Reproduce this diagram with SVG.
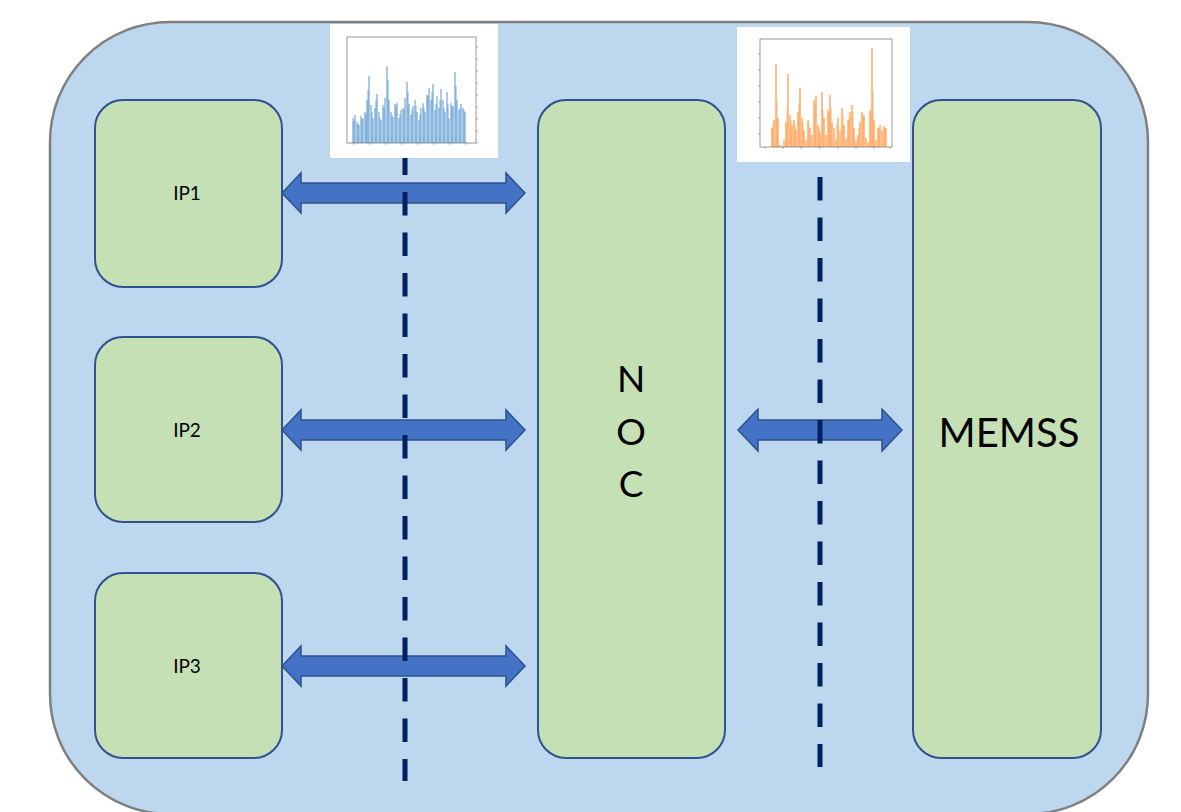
<svg xmlns="http://www.w3.org/2000/svg" width="1181" height="812" viewBox="0 0 1181 812">
  <defs>
    <style>
      .block { fill: #C5E0B4; stroke: #2F528F; stroke-width: 2; }
      .link { fill: #4472C4; stroke: #2F528F; stroke-width: 1.5; stroke-linejoin: miter; }
      .cut { stroke: #002060; stroke-width: 5; stroke-dasharray: 23.5 17; fill: none; }
      .label { font-family: Lato, "Open Sans", "Liberation Sans", sans-serif; fill: #000; text-anchor: middle; }
      .frame { fill: none; stroke: #555; stroke-width: 0.6; }
      .tick { stroke: #777; stroke-width: 0.6; }
    </style>
  </defs>

  <!-- SoC boundary -->
  <rect id="soc" x="50" y="22" width="1098" height="792" rx="120" ry="120" fill="#BDD7EE" stroke="#808080" stroke-width="2.5"/>

  <!-- IP blocks -->
  <g id="ip1">
    <rect class="block" x="95" y="100" width="187" height="187" rx="28"/>
    <text class="label" x="187" y="200" font-size="19">IP1</text>
  </g>
  <g id="ip2">
    <rect class="block" x="95" y="337" width="187" height="185" rx="28"/>
    <text class="label" x="187" y="437" font-size="19">IP2</text>
  </g>
  <g id="ip3">
    <rect class="block" x="95" y="573" width="187" height="185" rx="28"/>
    <text class="label" x="187" y="673" font-size="19">IP3</text>
  </g>

  <!-- Network on chip -->
  <g id="noc">
    <rect class="block" x="538" y="100" width="187" height="658" rx="28"/>
    <text class="label" x="631" y="392" font-size="37">N</text>
    <text class="label" x="631" y="445" font-size="37">O</text>
    <text class="label" x="631" y="497" font-size="37">C</text>
  </g>

  <!-- Memory subsystem -->
  <g id="memss">
    <rect class="block" x="913" y="100" width="188" height="658" rx="28"/>
    <text class="label" x="1009" y="447" font-size="40">MEMSS</text>
  </g>

  <!-- Bidirectional links and probe cut lines -->
  <g id="connectors">
    <polygon class="link" points="282,193 301,173 301,183 506,183 506,173 525,193 506,213 506,203 301,203 301,213"/>
    <polygon class="link" points="282,430 301,410 301,420 506,420 506,410 525,430 506,450 506,440 301,440 301,450"/>
    <polygon class="link" points="282,666 301,646 301,656 506,656 506,646 525,666 506,686 506,676 301,676 301,686"/>
    <polygon class="link" points="738,430 758,409 758,420 882,420 882,409 902,430 882,451 882,440 758,440 758,451"/>
    <line class="cut" x1="405" y1="151.5" x2="405" y2="781"/>
    <line class="cut" x1="820" y1="177" x2="820" y2="767"/>
  </g>

  <!-- Bandwidth plot at the IP/NOC cut -->
  <g id="plot-ip-noc">
    <rect x="330" y="24" width="168" height="134" fill="#fff"/>
    <path id="bw-bars" stroke="#A9CBE8" stroke-width="2" fill="none"
      d="M353 143V118M355 143V115M357 143V122M359 143V125M361 143V116M363 143V118M365 143V112M367 143V100M369 143V76M371 143V105M373 143V118M375 143V108M377 143V94M379 143V112M381 143V120M383 143V105M385 143V98M387 143V66M389 143V100M391 143V112M393 143V117M395 143V104M397 143V103M399 143V118M401 143V110M403 143V108M405 143V98M407 143V82M409 143V104M411 143V115M413 143V106M415 143V100M417 143V112M419 143V120M421 143V108M423 143V103M425 143V112M427 143V95M429 143V88M431 143V100M433 143V84M435 143V110M437 143V96M439 143V108M441 143V89M443 143V100M445 143V112M447 143V92M449 143V118M451 143V103M453 143V106M455 143V72M457 143V100M459 143V110M461 143V104M463 143V108M465 143V112"/>
    <path stroke="#3F86C4" stroke-width="0.8" stroke-opacity="0.85" fill="none"
      d="M354 143V121M358 143V124M362 143V119M366 143V114M368 143V90M372 143V112M376 143V100M380 143V118M384 143V108M388 143V80M392 143V115M396 143V106M400 143V114M404 143V110M408 143V92M412 143V110M416 143V106M420 143V114M424 143V108M428 143V96M432 143V92M436 143V104M440 143V100M444 143V108M448 143V104M452 143V106M456 143V86M460 143V108M464 143V110"/>
    <rect class="frame" x="347" y="37" width="129" height="106"/>
    <path class="tick" d="M476 47h2M476 59h2M476 71h2M476 83h2M476 95h2M476 107h2M476 119h2M476 131h2M476 143h2M354 143v2M370 143v2M386 143v2M402 143v2M418 143v2M434 143v2M450 143v2M466 143v2"/>
  </g>

  <!-- Latency plot at the NOC/MEMSS cut -->
  <g id="plot-noc-memss">
    <rect x="737" y="27" width="173" height="135" fill="#fff"/>
    <path stroke="#FFBE8A" stroke-width="2" fill="none"
      d="M772 147V128M774 147V120M776 147V64M778 147V118M780 147V145M782 147V146M784 147V140M786 147V122M788 147V74M790 147V115M792 147V125M794 147V120M796 147V130M798 147V112M800 147V88M802 147V118M804 147V130M806 147V140M808 147V120M810 147V128M812 147V135M814 147V100M816 147V96M818 147V125M820 147V132M822 147V92M824 147V118M826 147V135M828 147V110M830 147V95M832 147V122M834 147V128M836 147V140M838 147V118M840 147V130M842 147V108M844 147V125M846 147V138M848 147V120M850 147V112M852 147V105M854 147V128M856 147V140M858 147V135M860 147V122M862 147V112M864 147V115M866 147V138M868 147V142M870 147V110M872 147V48M874 147V120M876 147V140M878 147V128M880 147V125M882 147V130M884 147V126M886 147V128"/>
    <path stroke="#FF9A4A" stroke-width="0.9" stroke-opacity="0.8" fill="none"
      d="M773 147V124M777 147V100M787 147V110M791 147V120M795 147V124M799 147V104M803 147V122M809 147V124M815 147V104M819 147V128M823 147V110M829 147V112M831 147V108M837 147V124M843 147V116M849 147V118M853 147V112M859 147V128M863 147V116M871 147V112M873 147V90M879 147V128M885 147V128"/>
    <rect class="frame" x="760" y="39" width="132" height="108"/>
    <path class="tick" d="M758 54h2M758 70h2M758 86h2M758 102h2M758 118h2M758 134h2M765 147v2M783 147v2M801 147v2M820 147v2M838 147v2M856 147v2M874 147v2M890 147v2"/>
  </g>
</svg>
